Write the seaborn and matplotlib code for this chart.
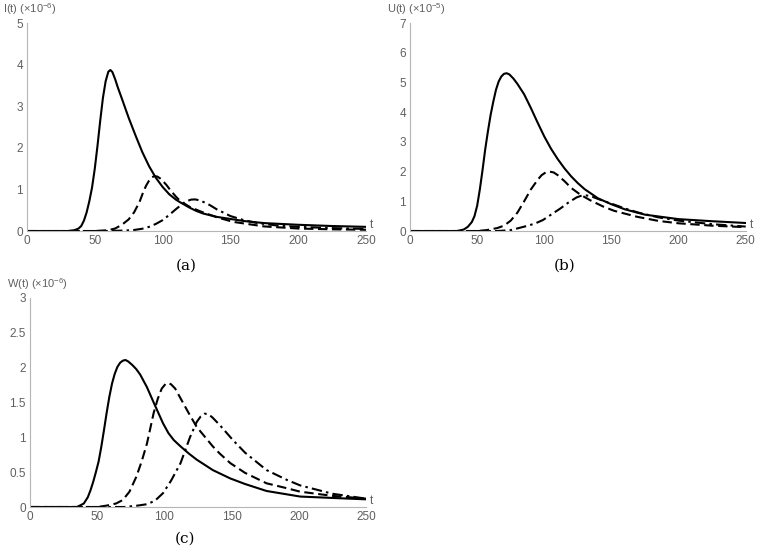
import matplotlib
matplotlib.use('Agg')
from matplotlib import pyplot as plt
import seaborn as sns

# panel (a): I(t) x 1e-6
a_solid_t = [0, 30, 35, 38, 40, 42, 44, 46, 48, 50, 52, 54, 56, 58, 60, 61.5, 63, 65, 67, 70, 75, 80, 85, 90,
             95, 100, 105, 110, 113, 120, 125, 130, 140, 150, 160, 175, 200, 225, 250]
a_solid_y = [0, 0, 0.02, 0.06, 0.12, 0.25, 0.45, 0.72, 1.05, 1.5, 2.05, 2.65, 3.2, 3.6, 3.83, 3.87, 3.82,
             3.65, 3.45, 3.18, 2.72, 2.3, 1.9, 1.56, 1.28, 1.06, 0.88, 0.75, 0.69, 0.56, 0.48, 0.42, 0.34,
             0.29, 0.24, 0.19, 0.15, 0.12, 0.10]
a_dash_t = [0, 50, 55, 60, 65, 70, 75, 79, 83, 86, 88, 90, 92, 94, 96, 98, 100, 103, 106, 110, 113, 120, 128,
            140, 152, 175, 200, 225, 250]
a_dash_y = [0, 0, 0.01, 0.02, 0.06, 0.15, 0.28, 0.45, 0.7, 0.96, 1.1, 1.21, 1.29, 1.32, 1.31, 1.27, 1.21,
            1.1, 0.97, 0.82, 0.72, 0.58, 0.47, 0.33, 0.22, 0.11, 0.06, 0.04, 0.03]
a_dot_t = [0, 60, 70, 78, 86, 90, 95, 100, 105, 110, 115, 118, 121, 124, 127, 130, 135, 140, 150, 160, 170,
           185, 200, 225, 250]
a_dot_y = [0, 0, 0.01, 0.02, 0.06, 0.1, 0.17, 0.26, 0.39, 0.53, 0.66, 0.72, 0.755, 0.76, 0.74, 0.7, 0.62,
           0.52, 0.36, 0.26, 0.19, 0.13, 0.1, 0.07, 0.05]

# panel (b): U(t) x 1e-5
b_solid_t = [0, 35, 40, 43, 46, 48, 50, 52, 54, 56, 58, 60, 62, 64, 66, 68, 70, 72, 74, 77, 80, 85, 90, 95,
             100, 105, 110, 115, 120, 125, 130, 140, 150, 160, 175, 200, 225, 250]
b_solid_y = [0, 0, 0.05, 0.14, 0.3, 0.5, 0.85, 1.4, 2.05, 2.75, 3.35, 3.9, 4.35, 4.75, 5.03, 5.2, 5.29, 5.31,
             5.27, 5.13, 4.95, 4.6, 4.14, 3.65, 3.18, 2.77, 2.42, 2.11, 1.84, 1.61, 1.41, 1.1, 0.9, 0.73,
             0.55, 0.4, 0.33, 0.27]
b_dash_t = [0, 50, 57, 65, 70, 75, 80, 85, 90, 95, 98, 101, 104, 107, 110, 115, 120, 127, 134, 144, 152, 169,
            185, 200, 225, 250]
b_dash_y = [0, 0, 0.03, 0.1, 0.18, 0.35, 0.62, 1.0, 1.4, 1.72, 1.88, 1.97, 2.0, 1.97, 1.88, 1.68, 1.45, 1.22,
            1.04, 0.82, 0.68, 0.48, 0.34, 0.26, 0.18, 0.13]
b_dot_t = [0, 65, 75, 87, 93, 99, 105, 112, 118, 124, 127, 130, 133, 136, 140, 150, 160, 170, 185, 200, 225,
           250]
b_dot_y = [0, 0, 0.03, 0.17, 0.25, 0.37, 0.55, 0.76, 0.96, 1.13, 1.18, 1.2, 1.19, 1.15, 1.08, 0.92, 0.76,
           0.62, 0.46, 0.35, 0.23, 0.15]

# panel (c): W(t) x 1e-6
c_solid_t = [0, 35, 40, 43, 45, 47, 49, 51, 53, 55, 57, 59, 61, 63, 65, 67, 69, 71, 73, 76, 79, 82, 87, 92,
             99, 103, 107, 112, 118, 124, 136, 149, 160, 176, 201, 225, 250]
c_solid_y = [0, 0, 0.05, 0.14, 0.24, 0.36, 0.5, 0.65, 0.86, 1.1, 1.35, 1.58, 1.77, 1.91, 2.01, 2.07, 2.1,
             2.11, 2.09, 2.04, 1.98, 1.9, 1.72, 1.5, 1.2, 1.06, 0.96, 0.87, 0.77, 0.68, 0.53, 0.41, 0.33,
             0.23, 0.15, 0.13, 0.11]
c_dash_t = [0, 50, 57, 64, 69, 74, 79, 83, 87, 92, 95, 98, 101, 103, 105, 108, 112, 118, 124, 136, 141, 149,
            160, 176, 191, 201, 225, 250]
c_dash_y = [0, 0, 0.02, 0.05, 0.1, 0.22, 0.43, 0.65, 0.91, 1.35, 1.55, 1.7, 1.77, 1.78, 1.76, 1.7, 1.56,
            1.35, 1.15, 0.87, 0.77, 0.63, 0.49, 0.34, 0.27, 0.22, 0.16, 0.12]
c_dot_t = [0, 70, 80, 87, 93, 99, 105, 112, 119, 124, 127, 130, 133, 136, 141, 151, 160, 176, 191, 201, 225,
           250]
c_dot_y = [0, 0, 0.02, 0.04, 0.09, 0.2, 0.38, 0.63, 1.0, 1.22, 1.3, 1.34, 1.33, 1.28, 1.18, 0.96, 0.78, 0.53,
           0.39, 0.31, 0.19, 0.12]

x_ticks = [0, 50, 100, 150, 200, 250]

AXIS_GREY = '#b5b5b5'
TEXT_GREY = '#606060'
DASHED = (4.5, 2.2)
DASHDOT = (5, 2, 1.2, 2)


def _draw_panel(ax, curves, y_max, y_ticks, y_tick_labels, y_label):
    for t, y, dashes in curves:
        line_style = '-' if dashes is None else (0, dashes)
        sns.lineplot(x=t, y=y, ax=ax, color='black', linewidth=1.5, linestyle=line_style, sort=False,
                     solid_joinstyle='round', dash_joinstyle='round')

    ax.set_xlim(0, 250)
    ax.set_ylim(0, y_max)
    ax.set_xticks(x_ticks)
    ax.set_xticklabels([str(v) for v in x_ticks])
    ax.set_yticks(y_ticks)
    ax.set_yticklabels(y_tick_labels)
    ax.set_xlabel('')
    ax.set_ylabel('')

    for side in ['top', 'right']:
        ax.spines[side].set_visible(False)
    for side in ['left', 'bottom']:
        ax.spines[side].set_color(AXIS_GREY)
        ax.spines[side].set_linewidth(0.8)
    ax.tick_params(axis='both', colors=AXIS_GREY, labelcolor=TEXT_GREY, labelsize=8.5, length=3, width=0.6,
                   direction='in', pad=3)

    ax.text(-0.07, 1.03, y_label, transform=ax.transAxes, fontsize=8, color=TEXT_GREY, ha='left', va='bottom')
    ax.text(1.012, 0.0, 't', transform=ax.transAxes, fontsize=8.5, color=TEXT_GREY, ha='left', va='bottom')


sns.set_style('white')
plt.rcParams['font.family'] = ['Liberation Sans', 'DejaVu Sans']
plt.rcParams['mathtext.fontset'] = 'custom'
plt.rcParams['mathtext.rm'] = 'Liberation Sans'

fig = plt.figure(figsize=(7.6, 5.49), dpi=100)
ax_a = fig.add_axes([0.0355, 0.5792, 0.4461, 0.3789])
ax_b = fig.add_axes([0.5395, 0.5792, 0.4417, 0.3789])
ax_c = fig.add_axes([0.0395, 0.0765, 0.4421, 0.3807])

_draw_panel(ax_a, [(a_solid_t, a_solid_y, None), (a_dash_t, a_dash_y, DASHED), (a_dot_t, a_dot_y, DASHDOT)],
            5, [0, 1, 2, 3, 4, 5], ['0', '1', '2', '3', '4', '5'], 'I(t) (\u00d710$^{-6}$)')
_draw_panel(ax_b, [(b_solid_t, b_solid_y, None), (b_dash_t, b_dash_y, DASHED), (b_dot_t, b_dot_y, DASHDOT)],
            7, [0, 1, 2, 3, 4, 5, 6, 7], ['0', '1', '2', '3', '4', '5', '6', '7'], 'U(t) (\u00d710$^{-5}$)')
_draw_panel(ax_c, [(c_solid_t, c_solid_y, None), (c_dash_t, c_dash_y, DASHED), (c_dot_t, c_dot_y, DASHDOT)],
            3, [0, 0.5, 1, 1.5, 2, 2.5, 3], ['0', '0.5', '1', '1.5', '2', '2.5', '3'], 'W(t) (\u00d710$^{-6}$)')

# panel captions
for label, x_px, y_px in [('(a)', 186, 266), ('(b)', 565, 266), ('(c)', 185, 539)]:
    fig.text(x_px / 760, 1 - y_px / 549, label, fontsize=11, color='black', ha='center', va='center',
             family='DejaVu Serif')

fig.savefig('out.png', dpi=100)
